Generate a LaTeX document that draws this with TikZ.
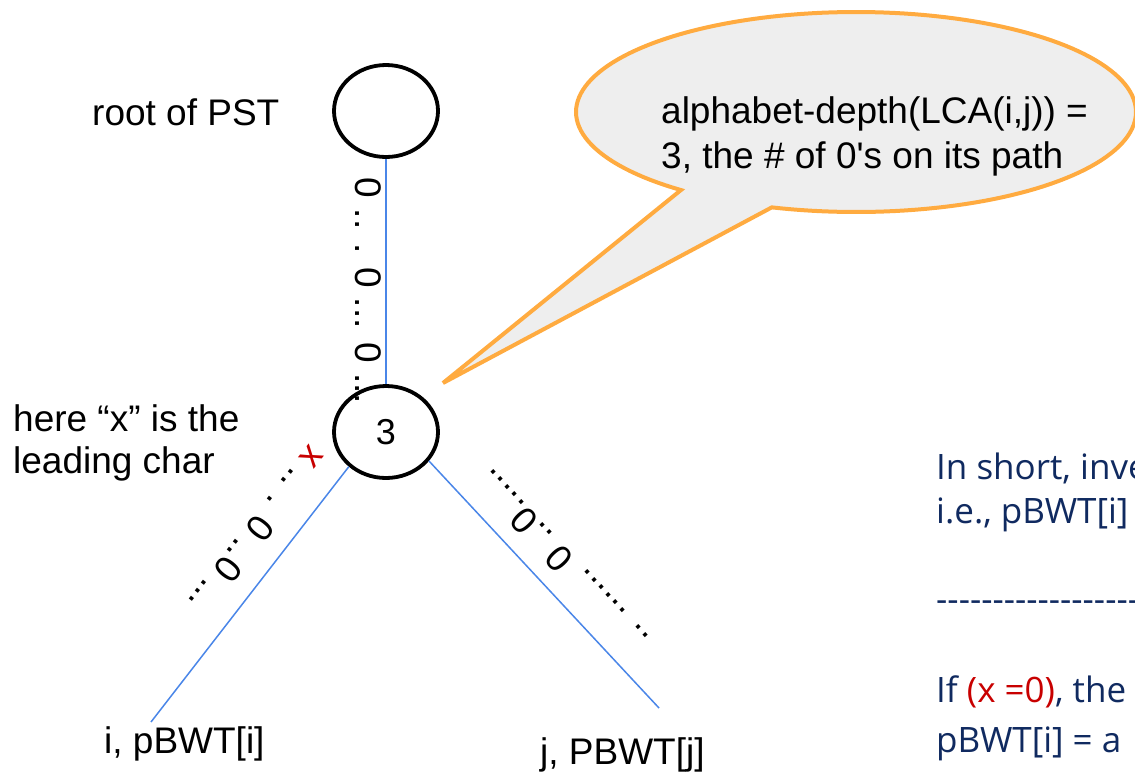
\documentclass[tikz,border=0pt]{standalone}
\usepackage{fontspec}
\setmainfont{Liberation Sans}
\newfontfamily\notefont{Open Sans}
\usetikzlibrary{shapes.geometric}

\definecolor{edgeblue}{HTML}{4A86E8}
\definecolor{calloutorange}{HTML}{FFAB40}
\definecolor{calloutfill}{HTML}{EEEEEE}
\definecolor{notenavy}{RGB}{16,42,96}
\definecolor{markred}{RGB}{200,0,0}

\begin{document}
\begin{tikzpicture}[x=1pt,y=-1pt,
  treenode/.style={draw=black, line width=3.8pt, ellipse, minimum width=104pt,
                   minimum height=92pt, inner sep=0pt},
  edge/.style={draw=edgeblue, line width=1.5pt},
  lbl/.style={font=\fontsize{37}{44}\selectfont, inner sep=0pt, anchor=base west},
  note/.style={font=\notefont\fontsize{35}{42}\selectfont, text=notenavy,
               inner sep=0pt, anchor=base west},
  callout/.style={draw=calloutorange, fill=calloutfill, line width=4pt, line join=miter}]

\useasboundingbox (0,0) rectangle (1135,772);
\clip (0,0) rectangle (1135,772);

% speech bubble: ellipse with a wedge pointing at the LCA node
\draw[callout] plot[domain=128.7:467.5, samples=160]
      ({856+280*cos(\x)},{112+100*sin(\x)}) -- (443,383) -- cycle;
\node[lbl] (bubble1) at (661,123) {alphabet-depth(LCA(i,j)) =};
\node[lbl] (bubble2) at (661,168) {3, the \# of 0\textquotesingle s on its path};

% tree nodes
\node[treenode] (root) at (386,111) {};
\node[treenode] (lca) at (386,432) {\fontsize{36}{40}\selectfont 3};
\coordinate (leafi) at (151,722);
\coordinate (leafj) at (659,708);

% edges
\draw[edge] (root) -- (lca);
\draw[edge] (lca.223) -- (leafi);
\draw[edge] (lca.326) -- (leafj);

% edge labels written along the edges
\node[lbl, rotate=-90] (vzeros) at (355,177.7) {0 .. . 0 ... 0 ...};
\node[lbl, rotate=232] (lzeros) at (310.1,443.8) {\textcolor{markred}{x} .. . 0 ..0 ...};
\node[lbl, rotate=133] (rzeros) at (650.9,637.5) {.. ...... 0 ..0.....};

% labels
\node[lbl] (rootlbl) at (92,125) {root of PST};
\node[lbl] (lead1) at (13,431) {here “x” is the};
\node[lbl] (lead2) at (13,473) {leading char};
\node[lbl] (ilbl) at (104,753) {i, pBWT[i]};
\node[lbl] (jlbl) at (540,764) {j, PBWT[j]};

% notes on the right
\node[note] (note1) at (936,479) {In short, inve};
\node[note] (note2) at (936,523) {i.e., pBWT[i]};
\node[note] (note3) at (936,611) {\foreach \k in {1,...,20}{-\kern0pt}};
\node[note] (note4) at (936,702) {If \textcolor{markred}{(x =0)}, the};
\node[note] (note5) at (936,752) {pBWT[i] = a};
\end{tikzpicture}
\end{document}
